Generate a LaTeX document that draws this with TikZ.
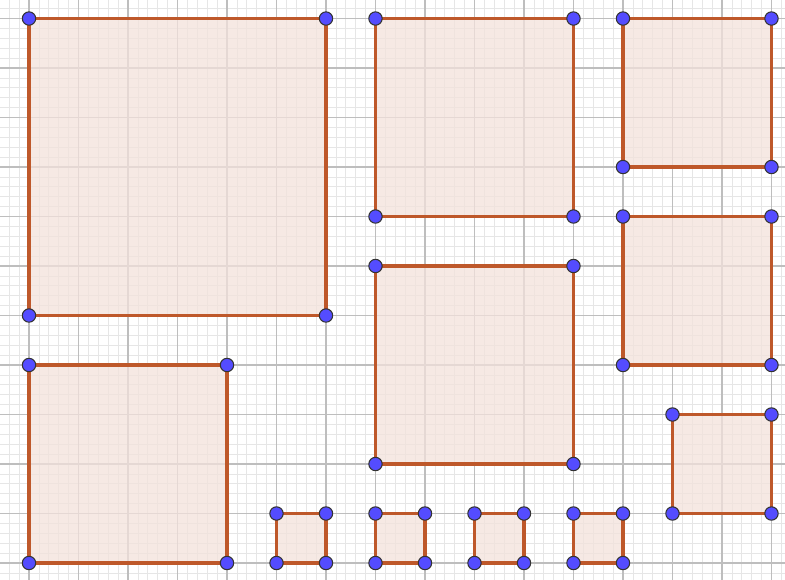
\documentclass[tikz,border=0pt]{standalone}
\definecolor{edgec}{RGB}{190,88,42}
\definecolor{fillc}{RGB}{243,226,220}
\definecolor{ptc}{RGB}{84,76,255}
\definecolor{majorc}{RGB}{190,190,190}
\definecolor{minorc}{RGB}{230,230,230}
\tikzset{
  sqbox/.style={draw=edgec, fill=fillc, fill opacity=0.75, line width=1.8pt, line join=round},
  pt/.style={circle, draw=black!80, fill=ptc, line width=0.6pt, inner sep=0pt, minimum size=0.27cm},
  minorgrid/.style={draw=minorc, line width=0.4pt},
  majorgrid/.style={draw=majorc, line width=0.7pt}
}
\begin{document}
\begin{tikzpicture}
\useasboundingbox (-0.586,-0.343) rectangle (15.273,11.374);
\fill[white] (-0.586,-0.343) rectangle (15.273,11.374);
\foreach \i in {-2,...,76} {
  \draw[minorgrid] ({\i*0.2},-0.343) -- ({\i*0.2},11.374);
}
\foreach \j in {-1,...,56} {
  \draw[minorgrid] (-0.586,{\j*0.2}) -- (15.273,{\j*0.2});
}
\foreach \i in {0,...,15} {
  \draw[majorgrid] (\i,-0.343) -- (\i,11.374);
}
\foreach \j in {0,...,11} {
  \draw[majorgrid] (-0.586,\j) -- (15.273,\j);
}
\foreach \n/\x/\y/\s in {A/0/5/6, B/7/7/4, C/12/8/3, D/12/4/3, E/7/2/4, F/0/0/4, G/13/1/2, H/5/0/1, I/7/0/1, J/9/0/1, K/11/0/1} {
  \coordinate (\n1) at (\x,\y);
  \coordinate (\n2) at ({\x+\s},\y);
  \coordinate (\n3) at ({\x+\s},{\y+\s});
  \coordinate (\n4) at (\x,{\y+\s});
  \path[sqbox] (\n1) -- (\n2) -- (\n3) -- (\n4) -- cycle;
  \node[pt] (\n1p) at (\n1) {};
  \node[pt] (\n2p) at (\n2) {};
  \node[pt] (\n3p) at (\n3) {};
  \node[pt] (\n4p) at (\n4) {};
}
\end{tikzpicture}
\end{document}
